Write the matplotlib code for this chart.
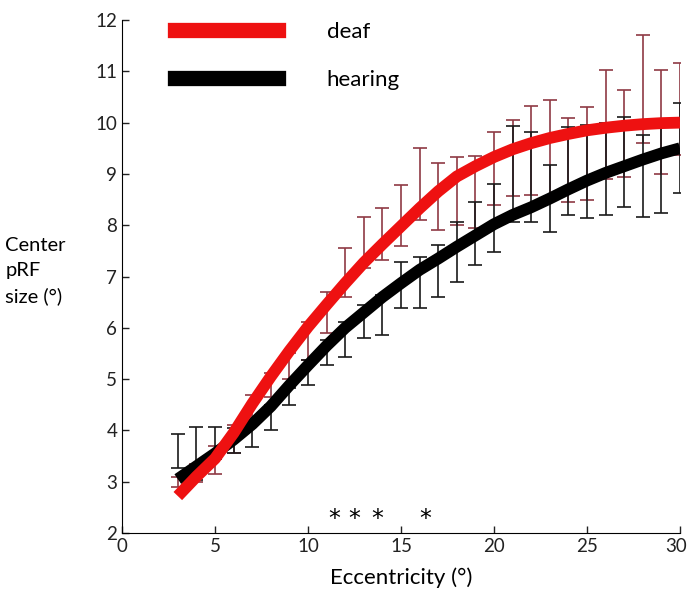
import numpy as np
import matplotlib.pyplot as plt
from matplotlib.lines import Line2D
from matplotlib.transforms import ScaledTranslation

plt.rcParams['font.family'] = ['Lato', 'DejaVu Sans']

# eccentricity bins (deg)
ecc = np.arange(3, 31)

# fitted curves
deaf_fit = [2.72, 3.1, 3.45, 3.95, 4.52, 5.05, 5.55, 6.02, 6.45, 6.87, 7.27, 7.63,
            7.98, 8.33, 8.66, 8.95, 9.15, 9.33, 9.48, 9.6, 9.7, 9.78, 9.85, 9.9,
            9.94, 9.97, 9.99, 10.0]
hear_fit = [3.05, 3.3, 3.55, 3.82, 4.12, 4.47, 4.88, 5.27, 5.65, 6.0, 6.3, 6.6,
            6.87, 7.13, 7.35, 7.58, 7.8, 8.02, 8.2, 8.35, 8.52, 8.7, 8.87, 9.02,
            9.15, 9.28, 9.4, 9.5]

# error bar extents (low / high)
deaf_lo = [2.9, 3.0, 3.15, 3.55, 4.25, 4.65, 5.0, 5.37, 5.9, 6.6, 7.17, 7.32,
           7.6, 8.1, 7.9, 8.0, 7.95, 8.39, 8.57, 8.59, 8.53, 8.45, 8.49, 8.9,
           8.94, 9.6, 9.0, 9.37]
deaf_hi = [3.1, 3.35, 3.7, 4.1, 4.69, 5.12, 5.5, 6.11, 6.7, 7.55, 8.16, 8.33,
           8.78, 9.5, 9.21, 9.33, 9.35, 9.82, 10.05, 10.32, 10.44, 10.09, 10.3, 11.03,
           10.64, 11.71, 11.03, 11.16]
hear_lo = [3.27, 3.03, 3.45, 3.55, 3.68, 4.0, 4.5, 4.88, 5.27, 5.43, 5.8, 5.86,
           6.39, 6.39, 6.6, 6.9, 7.22, 7.48, 8.06, 8.06, 7.87, 8.2, 8.14, 8.2,
           8.36, 8.16, 8.24, 8.63]
hear_hi = [3.93, 4.07, 4.07, 4.05, 4.1, 4.5, 4.83, 5.37, 5.76, 6.11, 6.44, 6.64,
           7.28, 7.38, 7.61, 8.06, 8.45, 8.8, 9.93, 9.82, 9.17, 9.91, 9.95, 9.99,
           10.1, 9.76, 10.0, 10.38]

# significant bins
sig_ecc = [11.4, 12.5, 13.7, 16.3]

fig = plt.figure(figsize=(6.87, 5.89), dpi=100)
ax = fig.add_axes([0.1776, 0.0951, 0.8122, 0.8709])

for lo, hi, col in [(deaf_lo, deaf_hi, '#8f3a44'), (hear_lo, hear_hi, '#1a1a1a')]:
    lo = np.array(lo)
    hi = np.array(hi)
    ax.errorbar(ecc, (lo + hi) / 2, yerr=(hi - lo) / 2, fmt='none',
                ecolor=col, elinewidth=1.2, capsize=5, capthick=1.2, zorder=2)

ax.plot(ecc, hear_fit, color='black', lw=8.5, solid_capstyle='butt', zorder=3)
ax.plot(ecc, deaf_fit, color='#ee1111', lw=8.5, solid_capstyle='butt', zorder=4)

for e in sig_ecc:
    ax.text(e, 2.28, '*', ha='center', va='center', fontsize=17, family='DejaVu Sans')

ax.set_xlim(0, 30)
ax.set_ylim(2, 12)
ax.set_xticks(range(0, 31, 5))
ax.set_yticks(range(2, 13))
ax.tick_params(direction='in', labelsize=13.5, length=5, width=1, colors='#222222')
ax.spines['top'].set_visible(False)
ax.spines['right'].set_visible(False)
ax.set_xlabel('Eccentricity (°)', fontsize=16, labelpad=9)

# keep the last x label inside the figure
last = ax.get_xticklabels()[-1]
last.set_transform(last.get_transform() + ScaledTranslation(-3 / 72, 0, fig.dpi_scale_trans))

fig.text(0.008, 0.54, 'Center\npRF\nsize (°)', fontsize=14.5, ha='left', va='center',
         linespacing=1.55)

handles = [Line2D([], [], color='#ee1111', lw=11),
           Line2D([], [], color='black', lw=11)]
ax.legend(handles, ['deaf', 'hearing'], loc='upper left', bbox_to_anchor=(0.06, 1.035),
          frameon=False, fontsize=16, handlelength=4.6, handletextpad=2.2,
          labelspacing=1.25)

fig.savefig('out.png', dpi=100)
